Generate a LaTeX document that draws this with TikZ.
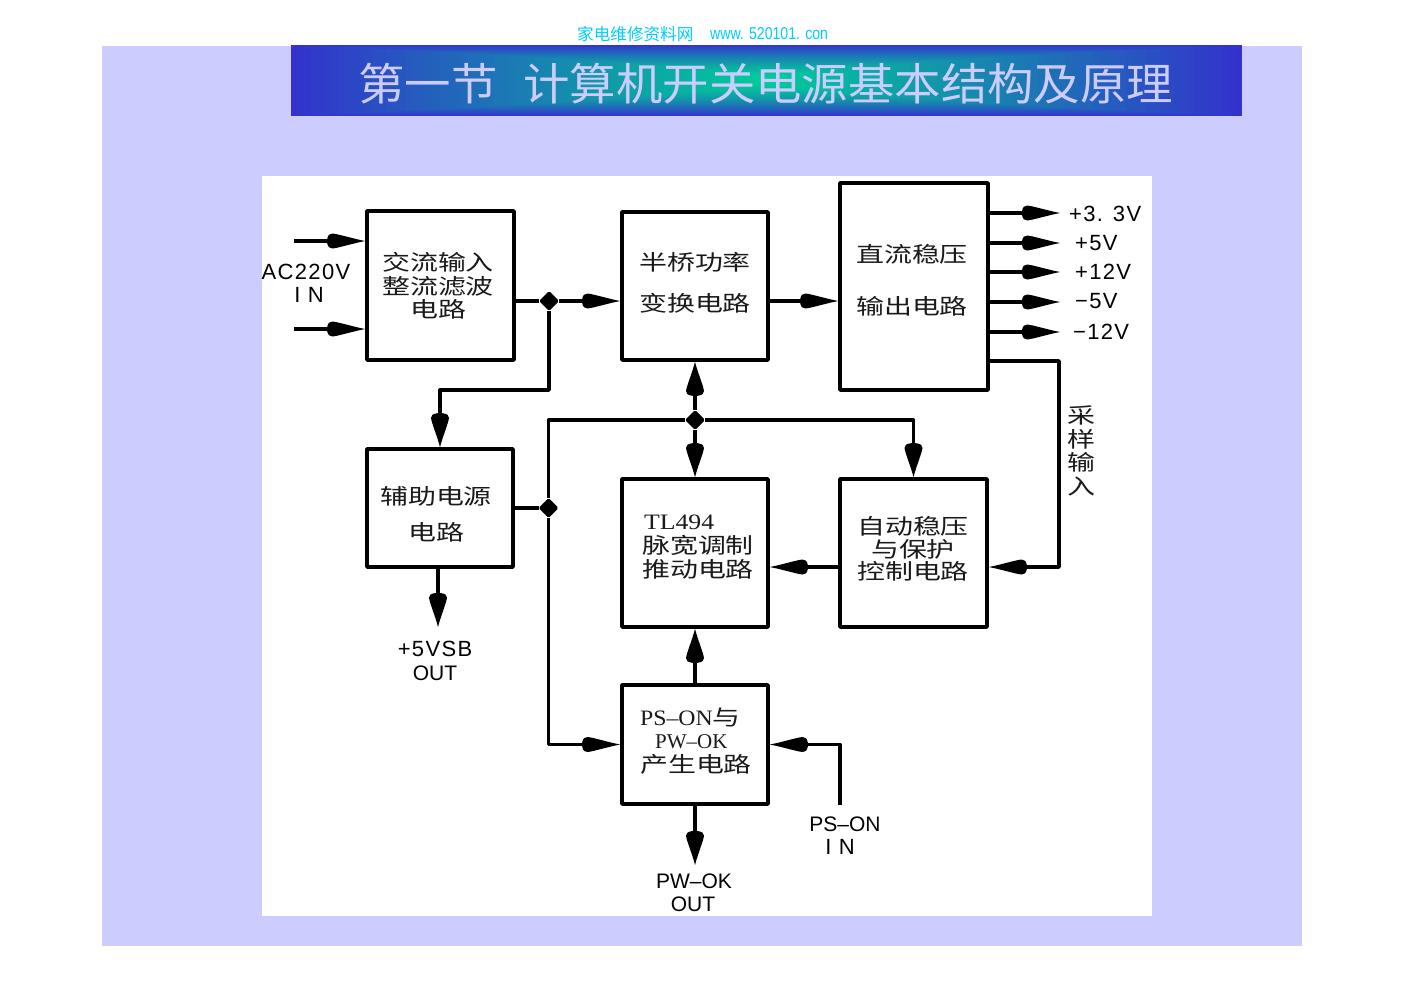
\documentclass[tikz,border=0pt]{standalone}
\usepackage{fontspec}
\usetikzlibrary{arrows.meta,shapes.geometric}
\setmainfont{Liberation Sans}
\newfontfamily\cjk[FakeStretch=1.3]{Noto Sans CJK SC}
\newfontfamily\cjktitle[FakeStretch=1.05]{Noto Sans CJK SC}
\newfontfamily\cjkplain{Noto Sans CJK SC}
\newfontfamily\srf[FakeStretch=1.08]{Liberation Serif}
\newfontfamily\srfn{Liberation Serif}
\newfontfamily\srfw[FakeStretch=1.17]{Liberation Serif}
\newfontfamily\spaced[LetterSpace=6]{Liberation Sans}
\newfontfamily\narrowl[FakeStretch=.82]{Liberation Sans}
\definecolor{lav}{HTML}{CCCCFF}
\definecolor{bluec}{HTML}{3333CC}
\definecolor{tealc}{HTML}{00CC99}
\definecolor{cyanc}{HTML}{00CCFF}
\definecolor{inkc}{HTML}{1A1A1A}
\pgfdeclarearrow{
  name=Blade,
  parameters={\the\pgfarrowlength,\the\pgfarrowwidth},
  setup code={
    \pgfarrowssettipend{0pt}
    \pgfarrowssetlineend{-.5\pgfarrowlength}
    \pgfarrowssetvisualbackend{-\pgfarrowlength}
    \pgfarrowssetbackend{-\pgfarrowlength}
    \pgfarrowssavethe\pgfarrowlength
    \pgfarrowssavethe\pgfarrowwidth
  },
  drawing code={
    \pgfpathmoveto{\pgfpointorigin}
    \pgfpathcurveto{\pgfpoint{-.3\pgfarrowlength}{.14\pgfarrowwidth}}{\pgfpoint{-.7\pgfarrowlength}{.46\pgfarrowwidth}}{\pgfpoint{-.86\pgfarrowlength}{.5\pgfarrowwidth}}
    \pgfpathcurveto{\pgfpoint{-.93\pgfarrowlength}{.5\pgfarrowwidth}}{\pgfpoint{-.98\pgfarrowlength}{.42\pgfarrowwidth}}{\pgfpoint{-\pgfarrowlength}{.14\pgfarrowwidth}}
    \pgfpathlineto{\pgfpoint{-\pgfarrowlength}{-.14\pgfarrowwidth}}
    \pgfpathcurveto{\pgfpoint{-.98\pgfarrowlength}{-.42\pgfarrowwidth}}{\pgfpoint{-.93\pgfarrowlength}{-.5\pgfarrowwidth}}{\pgfpoint{-.86\pgfarrowlength}{-.5\pgfarrowwidth}}
    \pgfpathcurveto{\pgfpoint{-.7\pgfarrowlength}{-.46\pgfarrowwidth}}{\pgfpoint{-.3\pgfarrowlength}{-.14\pgfarrowwidth}}{\pgfpointorigin}
    \pgfpathclose
    \pgfusepathqfill
  },
  defaults={length=38pt,width=15pt}
}
\tikzset{
  box/.style={draw=black,line width=3.6pt,line join=round,fill=white,inner sep=0pt},
  wire/.style={draw=black,line width=3.4pt,line join=round},
  arr/.style={wire,-{Blade[length=38pt,width=15pt]}},
  varr/.style={wire,-{Blade[length=34pt,width=18pt]}},
  dot/.style={diamond,aspect=1,fill=black,draw=black,line width=3pt,line join=round,minimum size=17pt,inner sep=0pt},
  zh/.style={font=\fontsize{21.5}{#1}\selectfont\cjk,text=inkc,align=center,inner sep=0pt},
  zhl/.style={font=\fontsize{21.5}{#1}\selectfont\cjk,text=inkc,align=left,inner sep=0pt},
  lat/.style={font=\fontsize{22}{24}\selectfont\spaced,text=black,align=center,inner sep=0pt},
  plat/.style={font=\fontsize{21}{23.5}\selectfont,text=black,align=center,inner sep=0pt},
}
\begin{document}
\begin{tikzpicture}[x=1pt,y=-1pt]
\lineskiplimit=-100pt
\lineskip=0pt
\useasboundingbox (0,0) rectangle (1404,993);
\fill[white] (0,0) rectangle (1404,993);
\fill[lav] (102,46) rectangle (1302,946);
\fill[white] (262,176) rectangle (1152,916);
% title band
\foreach \i in {0,...,69}{
  \pgfmathsetmacro\s{1-\i/70}
  \pgfmathsetmacro\p{100*\i/69}
  \pgfmathsetmacro\hh{35.5*\s^0.62}
  \fill[tealc!\p!bluec] ({766-475.5*\s},{80.5-\hh}) rectangle ({766+475.5*\s},{80.5+\hh});
}
\node[font=\fontsize{44.2}{50}\selectfont\cjktitle,text=lav,anchor=west,inner sep=0pt] (title) at (358,84) {第一节\hspace{26pt}计算机开关电源基本结构及原理};
\node[font=\fontsize{16.6}{18}\selectfont\cjkplain,text=cyanc,anchor=west,inner sep=0pt] (wm1) at (577,34) {家电维修资料网};
\node[font=\fontsize{17.2}{18}\selectfont\narrowl,text=cyanc,anchor=west,inner sep=0pt] (wm2) at (710,34) {www. 520101. con};
% boxes
\node[box,minimum width=147pt,minimum height=149pt] (A) at (440.5,285.5) {};
\node[box,minimum width=146pt,minimum height=148pt] (B) at (695,286) {};
\node[box,minimum width=148pt,minimum height=207pt] (C) at (914,286.5) {};
\node[box,minimum width=146pt,minimum height=118pt] (D) at (440,508) {};
\node[box,minimum width=146pt,minimum height=148pt] (E) at (695,553) {};
\node[box,minimum width=147pt,minimum height=148pt] (F) at (913.5,553) {};
\node[box,minimum width=146pt,minimum height=119pt] (G) at (695,744.5) {};
% box texts
\node[zh=23.5pt] (tA) at (438,286) {交流输入\\整流滤波\\电路};
\node[zh=41pt] (tB) at (695,283) {半桥功率\\变换电路};
\node[zh=52pt] (tC) at (912,280) {直流稳压\\输出电路};
\node[zh=36pt] (tD) at (436,514) {辅助电源\\电路};
\node[zhl=24pt] (tE) at (698,547.5) {\hspace*{2pt}{\srfw\fontsize{22}{24}\selectfont TL494}\\脉宽调制\\推动电路};
\node[zh=22.5pt] (tF) at (913,549) {自动稳压\\与保护\\控制电路};
\node[zhl=23.5pt] (tG) at (696,741) {{\srf\fontsize{22}{24}\selectfont PS–ON}与\\\hspace*{15pt}{\srfn\fontsize{21}{24}\selectfont PW–OK}\\产生电路};
% junctions
\node[dot] (j1) at (549,301) {};
\node[dot] (j2) at (695,420) {};
\node[dot] (j3) at (548.5,508) {};
% free ends
\coordinate (ac1) at (294,241);
\coordinate (ac2) at (294,329);
\coordinate (o1) at (1060,213);
\coordinate (o2) at (1060,243);
\coordinate (o3) at (1060,272);
\coordinate (o4) at (1060,302);
\coordinate (o5) at (1060,332);
\coordinate (sa) at (1059,361);
\coordinate (vsb) at (438,627);
\coordinate (pw) at (695,865);
\coordinate (ps) at (840,805);
% connectors
\draw[arr] (ac1) -- (ac1 -| A.west);
\draw[arr] (ac2) -- (ac2 -| A.west);
\draw[wire] (j1 -| A.east) -- (j1);
\draw[arr] (j1) -- (j1 -| B.west);
\draw[varr] (j1) |- (440,390) -- (D.north);
\draw[arr] (j1 -| B.east) -- (j1 -| C.west);
\foreach \k in {o1,o2,o3,o4,o5}{\draw[arr] (\k -| C.east) -- (\k);}
\draw[arr] (sa -| C.east) -- (sa) -- (1059,567) -- (F.east |- 0,567);
\draw[arr] (F.west |- 0,567) -- (E.east |- 0,567);
\draw[varr] (j2) -- (B.south);
\draw[varr] (j2) -- (E.north);
\draw[varr] (j2) -| (F.north);
\draw[wire] (j2) -| (j3);
\draw[arr] (j3) |- (G.west);
\draw[wire] (D.east) -- (j3);
\draw[varr] (D.south -| vsb) -- (vsb);
\draw[varr] (G.north) -- (E.south);
\draw[varr] (G.south) -- (pw);
\draw[arr] (ps) |- (G.east);
% labels
\node[lat] (lac) at (306,272) {AC220V};
\node[lat] (lac2) at (309,295) {I N};
\node[lat] (lvsb) at (435,649) {+5VSB};
\node[plat] (lvsb2) at (435,673) {OUT};
\node[plat] (lpw) at (694,881) {PW–OK};
\node[plat] (lpw2) at (693,904) {OUT};
\node[plat] (lps) at (845,824) {PS–ON};
\node[lat] (lps2) at (840,847) {I N};
\node[lat,anchor=west] (l1) at (1069,214) {+3. 3V};
\node[lat,anchor=west] (l2) at (1075,243) {+5V};
\node[lat,anchor=west] (l3) at (1075,272) {+12V};
\node[lat,anchor=west] (l4) at (1075,301) {−5V};
\node[lat,anchor=west] (l5) at (1073,332) {−12V};
\node[zh=23.5pt] (ls) at (1081,451) {采\\样\\输\\入};
\end{tikzpicture}
\end{document}
